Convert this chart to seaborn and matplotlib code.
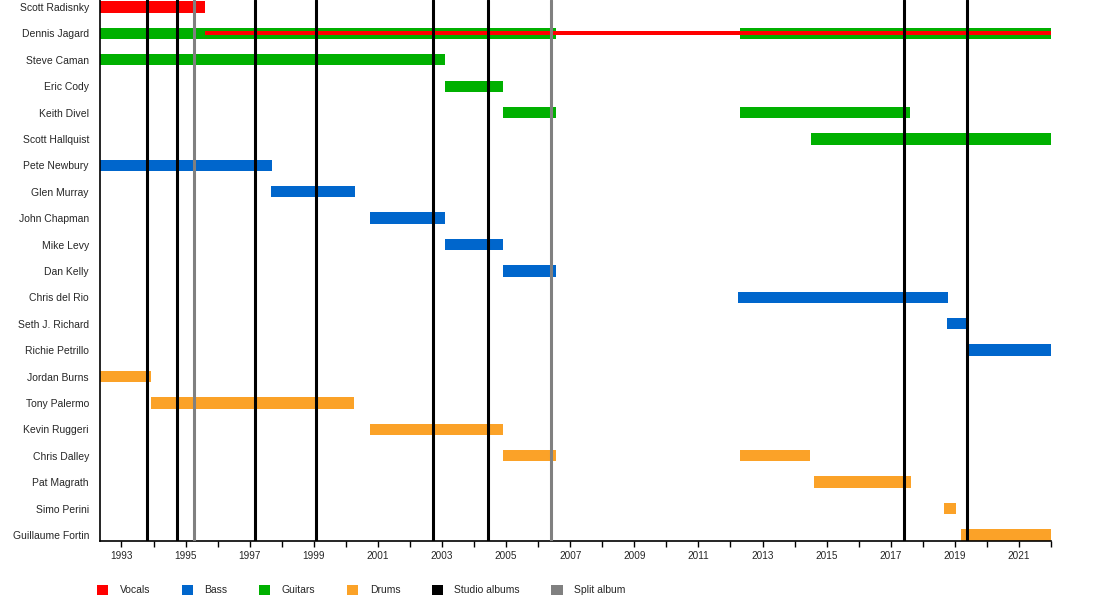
import matplotlib
matplotlib.use("Agg")
import matplotlib.pyplot as plt
from matplotlib.patches import Patch
from matplotlib.ticker import FixedLocator
import seaborn as sns
import pandas as pd

# Membros (de cima para baixo)
members = ["Scott Radisnky", "Dennis Jagard", "Steve Caman", "Eric Cody", "Keith Divel",
           "Scott Hallquist", "Pete Newbury", "Glen Murray", "John Chapman", "Mike Levy",
           "Dan Kelly", "Chris del Rio", "Seth J. Richard", "Richie Petrillo", "Jordan Burns",
           "Tony Palermo", "Kevin Ruggeri", "Chris Dalley", "Pat Magrath", "Simo Perini",
           "Guillaume Fortin"]

# Periodos (membro, funcao, inicio, fim)
bar_member = ["Scott Radisnky", "Dennis Jagard", "Dennis Jagard", "Steve Caman", "Eric Cody",
              "Keith Divel", "Keith Divel", "Scott Hallquist", "Pete Newbury", "Glen Murray",
              "John Chapman", "Mike Levy", "Dan Kelly", "Chris del Rio", "Seth J. Richard",
              "Richie Petrillo", "Jordan Burns", "Tony Palermo", "Kevin Ruggeri", "Chris Dalley",
              "Chris Dalley", "Pat Magrath", "Simo Perini", "Guillaume Fortin"]
bar_role = ["Vocals", "Guitars", "Guitars", "Guitars", "Guitars",
            "Guitars", "Guitars", "Guitars", "Bass", "Bass",
            "Bass", "Bass", "Bass", "Bass", "Bass",
            "Bass", "Drums", "Drums", "Drums", "Drums",
            "Drums", "Drums", "Drums", "Drums"]
bar_start = [1992.33, 1992.33, 2012.30, 1992.33, 2003.08,
             2004.90, 2012.30, 2014.50, 1992.33, 1997.68,
             2000.75, 2003.08, 2004.90, 2012.25, 2018.77,
             2019.36, 1992.33, 1993.92, 2000.74, 2004.90,
             2012.30, 2014.60, 2018.67, 2019.20]
bar_end = [1995.61, 2006.55, 2022.0, 2003.09, 2004.91,
           2006.55, 2017.60, 2022.0, 1997.69, 2000.28,
           2003.09, 2004.91, 2006.55, 2018.79, 2019.35,
           2022.0, 1993.93, 2000.27, 2004.91, 2006.55,
           2014.49, 2017.64, 2019.04, 2022.0]

# Vocais secundarios (linha fina sobre a barra)
vocal_member = ["Dennis Jagard"]
vocal_start = [1995.60]
vocal_end = [2022.0]

studio_albums = [1993.81, 1994.74, 1997.18, 1999.08, 2002.73, 2004.45, 2017.41, 2019.37]
split_albums = [1995.25, 2006.39]

year_start, year_end = 1992.33, 2022.0

colors = {"Vocals": "#ff0000", "Bass": "#0066cc", "Guitars": "#00b000", "Drums": "#fba228",
          "Studio albums": "#000000", "Split album": "#808080"}

df = pd.DataFrame({"member": bar_member, "role": bar_role, "start": bar_start, "end": bar_end})
df["row"] = df["member"].map({m: i for i, m in enumerate(members)})
df["dur"] = df["end"] - df["start"]

sns.set_theme(style="ticks")
plt.rcParams["font.family"] = ["Liberation Sans", "DejaVu Sans"]

fig = plt.figure(figsize=(11, 6), dpi=100)
ax = fig.add_axes([100 / 1100, 59 / 600, 951 / 1100, 541 / 600])

for role, grp in df.groupby("role"):
    ax.barh(grp["row"], grp["dur"], left=grp["start"], height=0.43,
            color=colors[role], linewidth=0, zorder=2)

vrow = [members.index(m) for m in vocal_member]
ax.barh(vrow, [e - s for s, e in zip(vocal_start, vocal_end)], left=vocal_start,
        height=0.15, color=colors["Vocals"], linewidth=0, zorder=3)

for x in studio_albums:
    ax.axvline(x, color=colors["Studio albums"], lw=2.2, zorder=4)
for x in split_albums:
    ax.axvline(x, color=colors["Split album"], lw=2.2, zorder=4)

ax.set_xlim(year_start, year_end)
ax.set_ylim(20.23, -0.265)
ax.set_yticks(range(len(members)))
ax.set_yticklabels(members, fontsize=7.5)
ax.tick_params(axis="y", length=0, pad=8)

ax.xaxis.set_major_locator(FixedLocator(list(range(1993, 2022, 2))))
ax.xaxis.set_minor_locator(FixedLocator(list(range(1994, 2023, 2))))
ax.set_xticklabels([str(y) for y in range(1993, 2022, 2)], fontsize=7.2)
ax.tick_params(axis="x", which="both", length=4, width=1, pad=3, color="black")
ax.set_xlabel("")
ax.set_ylabel("")

sns.despine(ax=ax, top=True, right=True)
for s in ["left", "bottom"]:
    ax.spines[s].set_color("black")
    ax.spines[s].set_linewidth(1.2)
ax.grid(False)

legend_labels = ["Vocals", "Bass", "Guitars", "Drums", "Studio albums", "Split album"]
handles = [Patch(facecolor=colors[l], edgecolor="none", label=l) for l in legend_labels]
fig.legend(handles=handles, loc="center left", bbox_to_anchor=(97 / 1100, 10 / 600),
           ncol=6, frameon=False, fontsize=7.5, handlelength=1.1, handleheight=1.2,
           handletextpad=1.1, columnspacing=3.0, borderpad=0, borderaxespad=0)

fig.savefig("out.png", dpi=100, facecolor="white")
